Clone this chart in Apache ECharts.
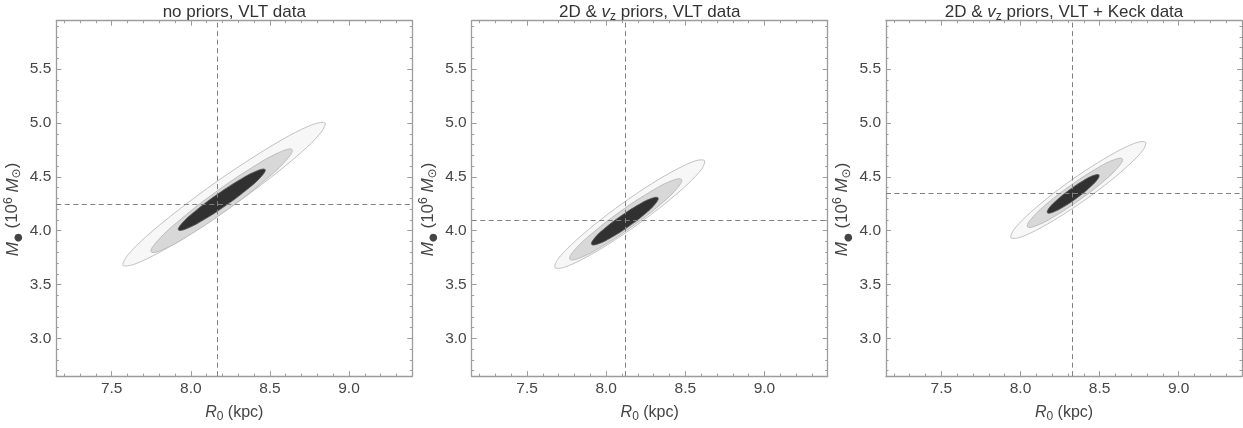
<!DOCTYPE html>
<html><head><meta charset="utf-8">
<script src="https://cdn.jsdelivr.net/npm/echarts@6/dist/echarts.min.js"></script>
<style>html,body{margin:0;padding:0;background:#fff}#c{width:1243px;height:428px}</style>
</head><body><div id="c"></div>
<script>
// ---- data ----
const panelTitles = ['no priors, VLT data', '2D & {i|v}{sub|z} priors, VLT data', '2D & {i|v}{sub|z} priors, VLT + Keck data'];
const r0Range = [7.15, 9.4];
const massRange = [2.65, 5.95];
const bestR0 = [8.17, 8.12, 8.33];
const bestMass = [4.25, 4.10, 4.35];

// panel 1 contours [R0, M]
const p1Outer = [[8.849,5.000],[8.820,4.907],[8.699,4.728],[8.503,4.491],[8.263,4.229],[8.014,3.985],[7.796,3.794],[7.640,3.687],[7.571,3.678],[7.600,3.771],[7.721,3.950],[7.917,4.187],[8.157,4.449],[8.406,4.693],[8.624,4.884],[8.780,4.991]];
const p1Mid = [[8.640,4.753],[8.600,4.650],[8.451,4.447],[8.234,4.199],[8.006,3.973],[7.829,3.828],[7.750,3.804],[7.790,3.906],[7.939,4.109],[8.156,4.357],[8.384,4.583],[8.561,4.728]];
const p1Inner = [[8.470,4.568],[8.446,4.504],[8.355,4.382],[8.221,4.234],[8.081,4.101],[7.972,4.018],[7.922,4.007],[7.946,4.071],[8.037,4.193],[8.171,4.341],[8.311,4.474],[8.420,4.557]];
// panel 2 contours
const p2Outer = [[8.622,4.651],[8.605,4.576],[8.518,4.436],[8.374,4.254],[8.197,4.056],[8.012,3.873],[7.848,3.734],[7.730,3.658],[7.676,3.657],[7.693,3.733],[7.781,3.872],[7.924,4.054],[8.101,4.252],[8.286,4.435],[8.450,4.574],[8.568,4.651]];
const p2Mid = [[8.476,4.475],[8.446,4.390],[8.330,4.228],[8.158,4.034],[7.977,3.858],[7.835,3.748],[7.770,3.735],[7.800,3.820],[7.917,3.982],[8.088,4.177],[8.269,4.352],[8.411,4.462]];
const p2Inner = [[8.328,4.305],[8.312,4.252],[8.244,4.154],[8.142,4.040],[8.033,3.938],[7.948,3.877],[7.908,3.873],[7.924,3.927],[7.993,4.024],[8.095,4.138],[8.203,4.240],[8.288,4.301]];
// panel 3 contours
const p3Outer = [[8.791,4.821],[8.776,4.752],[8.697,4.627],[8.569,4.464],[8.409,4.287],[8.242,4.125],[8.095,4.001],[7.988,3.934],[7.939,3.935],[7.955,4.004],[8.033,4.129],[8.161,4.292],[8.321,4.469],[8.488,4.631],[8.635,4.755],[8.742,4.822]];
const p3Mid = [[8.644,4.667],[8.619,4.593],[8.521,4.454],[8.375,4.288],[8.221,4.139],[8.100,4.047],[8.044,4.037],[8.069,4.111],[8.167,4.250],[8.313,4.416],[8.467,4.565],[8.588,4.657]];
const p3Inner = [[8.496,4.517],[8.485,4.473],[8.432,4.394],[8.354,4.301],[8.269,4.219],[8.202,4.170],[8.170,4.167],[8.181,4.211],[8.234,4.290],[8.313,4.383],[8.397,4.465],[8.464,4.514]];

// ---- presentation ----
const FONT = 'Liberation Sans, Arial, Helvetica, sans-serif';
const panelLefts = [56.3, 471.7, 886];
const PW = 356, PH = 356.3, PT = 20.7;
const frame = '#9c9c9c';
const levelStyles = [
  {fill:'#f7f7f7', stroke:'#c2c2c2', lw:1, smooth:0.3},
  {fill:'#d8d8d8', stroke:'#bcbcbc', lw:1, smooth:0.45},
  {fill:'#313131', stroke:'#555555', lw:0.8, smooth:0.45}
];
const contours = [[p1Outer,p1Mid,p1Inner],[p2Outer,p2Mid,p2Inner],[p3Outer,p3Mid,p3Inner]];

function rich(size, color, lh){
  return {
    i:{fontStyle:'italic', fontSize:size, color, fontFamily:FONT, lineHeight:lh},
    sub:{fontSize:Math.round(size*0.72), color, lineHeight:13, verticalAlign:'bottom', fontFamily:FONT},
    sup:{fontSize:Math.round(size*0.72), color, lineHeight:13, verticalAlign:'top', fontFamily:FONT},
    dot:{fontSize:Math.round(size*0.6), color, lineHeight:11, verticalAlign:'bottom', fontFamily:'DejaVu Sans'},
    odot:{fontSize:Math.round(size*0.72), color, lineHeight:13, verticalAlign:'bottom', fontFamily:'DejaVu Sans'}
  };
}

const grids = [], xAxes = [], yAxes = [], series = [], titles = [];
function axisCommon(range, show){
  return {
    type:'value', min:range[0], max:range[1], splitNumber:5,
    axisLine:{show:true, onZero:false, lineStyle:{color:frame, width:1.3}},
    axisTick:{show:true, inside:true, length:5, lineStyle:{color:frame, width:1}},
    minorTick:{show:true, splitNumber:5, length:2.5, lineStyle:{color:frame, width:1}},
    splitLine:{show:false}, minorSplitLine:{show:false},
    axisLabel:{show:show, showMinLabel:false, showMaxLabel:false, color:'#474747', fontSize:15.5, fontFamily:FONT, margin:5,
      formatter:v=>v.toFixed(1)}
  };
}
for (let p = 0; p < 3; p++) {
  grids.push({left:panelLefts[p], top:PT, width:PW, height:PH, show:false});
  titles.push({text:panelTitles[p], left:panelLefts[p]+PW/2, top:1, padding:0, textAlign:'center',
    textStyle:{fontSize:17, fontWeight:'normal', color:'#333', fontFamily:FONT, lineHeight:22, rich:rich(17,'#333',22)}});
  xAxes.push(Object.assign(axisCommon(r0Range, true), {gridIndex:p, position:'bottom',
    name:'{i|R}{sub|0} (kpc)', nameLocation:'middle', nameGap:21,
    nameTextStyle:{fontSize:16, color:'#444', fontFamily:FONT, lineHeight:21, rich:rich(16,'#444',21)}}));
  xAxes.push(Object.assign(axisCommon(r0Range, false), {gridIndex:p, position:'top'}));
  yAxes.push(Object.assign(axisCommon(massRange, true), {gridIndex:p, position:'left',
    name:'{i|M}{dot|●} (10{sup|6} {i|M}{odot|⊙})', nameLocation:'middle', nameGap:33,
    nameTextStyle:{fontSize:17, color:'#444', fontFamily:FONT, lineHeight:21, padding:[0,22,0,0], rich:rich(17,'#444',21)}}));
  yAxes.push(Object.assign(axisCommon(massRange, false), {gridIndex:p, position:'right'}));

  contours[p].forEach((verts, k) => {
    const st = levelStyles[k];
    series.push({
      type:'custom', xAxisIndex:2*p, yAxisIndex:2*p, data:verts, silent:true, animation:false, z:2+k,
      renderItem:(params, api) => {
        if (params.dataIndex !== 0) return null;
        return {type:'polygon', shape:{points:verts.map(v => api.coord(v)), smooth:st.smooth},
          style:{fill:st.fill, stroke:st.stroke, lineWidth:st.lw}};
      }
    });
  });
  series.push({
    type:'line', xAxisIndex:2*p, yAxisIndex:2*p, data:[], silent:true, animation:false, z:10,
    markLine:{silent:true, symbol:'none', animation:false, label:{show:false}, z:10,
      lineStyle:{type:[5,3.5], color:'#808080', width:1},
      data:[{xAxis:bestR0[p]},{yAxis:bestMass[p]}]}
  });
}

const chart = echarts.init(document.getElementById('c'), null, {renderer:'canvas'});
chart.setOption({
  animation:false, backgroundColor:'#fff',
  title:titles, grid:grids, xAxis:xAxes, yAxis:yAxes, series
});
</script></body></html>
